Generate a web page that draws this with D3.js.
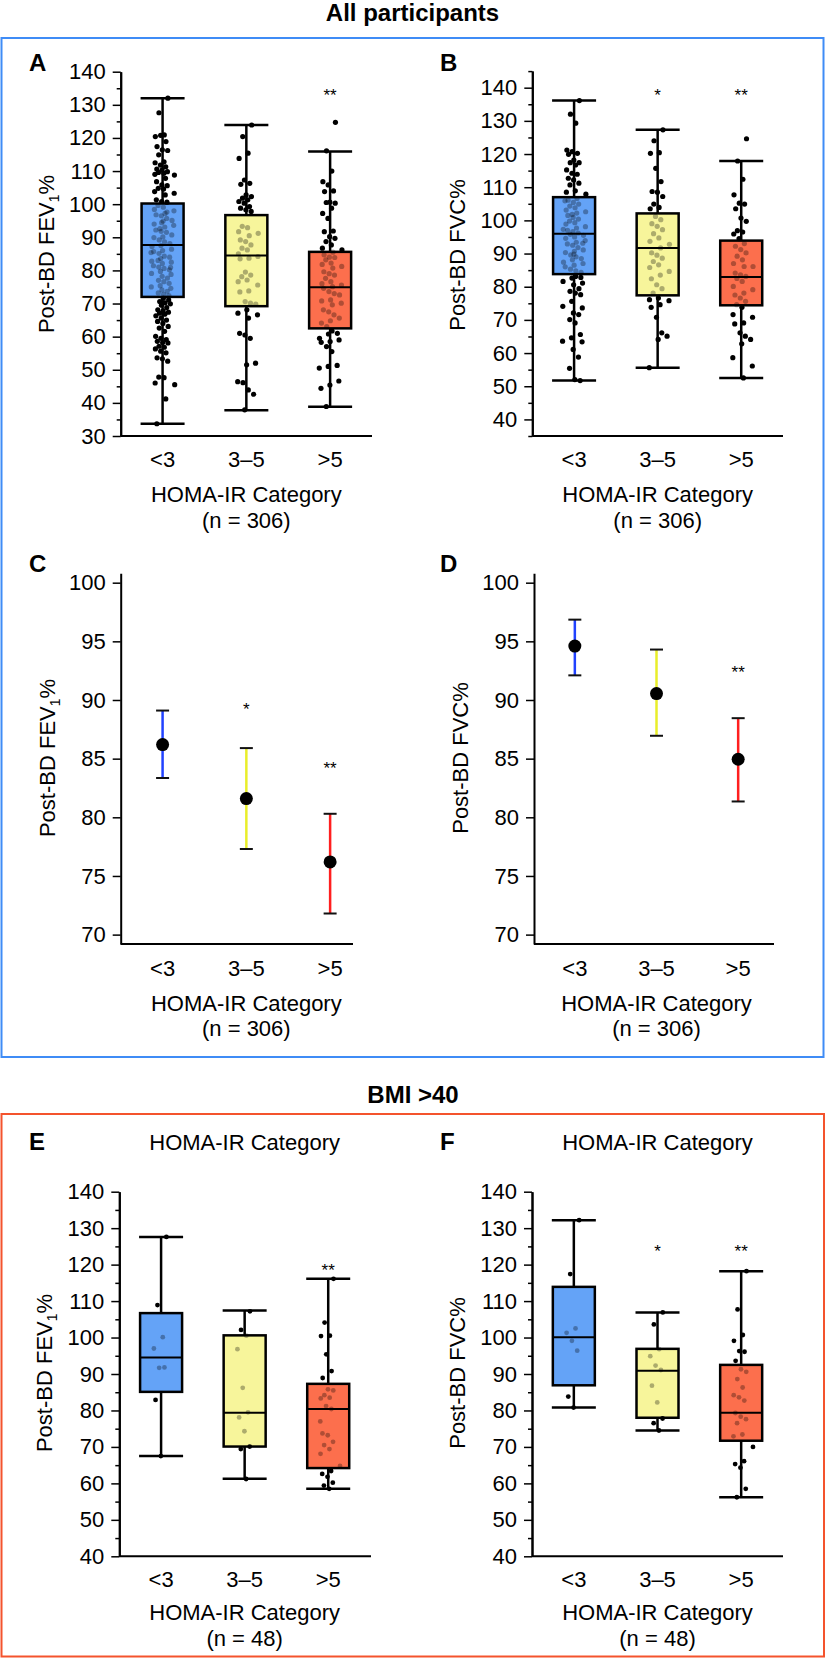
<!DOCTYPE html>
<html>
<head>
<meta charset="utf-8">
<script src="https://cdn.jsdelivr.net/npm/d3@7"></script>
<style>
body { margin: 0; background: #fff; }
svg { display: block; }
</style>
</head>
<body>
<div id="chart"></div>
<script>
var groups = ['<3', '3–5', '>5'];

// box plots: [whisker low, Q1, median, Q3, whisker high]
var statsA = [[33.7, 72.0, 87.7, 100.2, 132.0], [37.8, 69.2, 84.5, 96.7, 123.9], [38.8, 62.5, 74.9, 85.6, 115.9]];
var statsB = [[51.7, 83.8, 96.0, 107.0, 136.1], [55.6, 77.4, 91.7, 102.1, 127.3], [52.5, 74.4, 82.9, 93.9, 117.9]];
var statsE = [[67.5, 85.1, 94.5, 106.7, 127.6], [61.3, 70.1, 79.4, 100.6, 107.4], [58.5, 64.2, 80.4, 87.3, 116.1]];
var statsF = [[80.8, 86.9, 100.1, 113.9, 132.2], [74.5, 78.0, 90.9, 96.9, 106.9], [56.2, 71.7, 79.4, 92.5, 118.2]];

// individual participants, Post-BD FEV1% (all)
var ptsA_lt3 = [132.0, 127.6, 120.9, 120.4, 120.8, 118.9, 117.4, 116.4, 116.2, 114.9, 112.8, 112.5, 111.8, 111.3, 110.6, 110.3, 109.8, 109.6, 109.3, 109.0, 108.8, 107.8, 106.8, 105.8, 105.6, 104.8, 104.6, 103.8, 103.3, 102.8, 101.3, 100.8, 100.6,
  99.6, 99.1, 98.4, 98.0, 97.2, 96.8, 96.5, 95.7, 95.1, 94.9, 94.0, 93.6, 93.1, 92.2, 91.8, 91.5, 90.7, 90.1, 89.9, 89.2, 88.6, 88.1, 87.5, 87.2, 86.4, 86.0, 85.7, 85.1, 84.3, 84.0, 83.6, 82.8, 82.5, 82.1, 81.4, 81.0, 80.6, 80.2, 79.7, 79.1, 78.8, 78.2, 77.7, 77.0, 76.6, 76.1, 75.4, 75.0, 74.6, 74.1, 73.7, 73.2, 72.8, 72.4, 92.6, 85.4, 80.9, 94.4, 97.6, 83.0,
  71.6, 71.1, 70.6, 70.2, 69.9, 69.5, 68.8, 68.1, 67.8, 67.4, 67.1, 66.8, 66.3, 65.6, 65.0, 64.6, 64.0, 63.1, 62.6, 61.6, 60.1, 59.5, 59.1, 58.6, 58.2, 58.1, 57.1, 56.8, 56.3, 55.6, 55.1, 53.6, 53.3, 52.6, 47.8, 47.6, 46.0, 45.5, 41.2, 33.7];
var ptsA_3to5 = [123.9, 120.4, 115.4, 113.8, 107.3, 106.3, 106.0, 102.8, 102.3, 101.8, 101.3, 100.8, 100.3, 99.3, 98.8, 98.3, 97.8,
  93.3, 92.9, 91.7, 91.2, 90.5, 89.2, 88.7, 87.7, 86.7, 86.2, 85.0, 84.2, 83.7, 83.5, 79.5, 78.6, 78.1, 77.1, 76.6, 75.6, 73.8, 73.5, 70.6, 70.1, 69.8,
  68.1, 67.1, 66.6, 65.6, 61.0, 60.5, 59.5, 52.0, 51.5, 46.4, 46.1, 43.9, 42.6, 37.9];
var ptsA_gt5 = [124.7, 116.1, 110.0, 106.8, 105.8, 104.0, 103.8, 100.6, 100.3, 100.5, 98.8, 97.2, 95.7, 91.9, 91.7, 90.2, 89.7, 88.7, 87.7, 86.7, 86.2,
  85.5, 84.7, 84.0, 83.9, 83.2, 82.2, 81.8, 81.2, 80.7, 79.6, 79.0, 78.6, 77.6, 76.6, 76.0, 75.6, 75.1, 74.6, 73.6, 73.0, 72.6, 71.1, 70.8, 70.1, 69.6, 68.1, 67.5, 66.6, 65.6, 64.8, 64.1, 63.0,
  61.7, 61.0, 60.8, 59.5, 59.0, 58.5, 58.3, 57.0, 55.5, 51.3, 51.0, 50.5, 46.6, 45.4, 44.4, 38.9];

// individual participants, Post-BD FVC% (all)
var ptsB_lt3 = [136.1, 132.0, 129.3, 121.2, 120.7, 120.2, 119.9, 118.2, 117.4, 117.4, 116.7, 115.2, 114.2, 113.9, 112.7, 112.2, 111.2, 110.7, 108.9, 108.5, 107.9,
  106.6, 106.1, 105.4, 104.9, 104.3, 103.8, 103.1, 102.6, 102.2, 101.5, 100.9, 100.4, 99.8, 99.3, 98.9, 98.1, 97.7, 97.0, 96.6, 96.2, 95.5, 95.0, 94.6, 93.9, 93.4, 92.9, 92.5, 91.8, 91.1, 90.7, 90.3, 89.6, 89.0, 88.5, 88.1, 87.4, 87.0, 86.5, 86.0, 85.3, 84.8, 84.3, 101.8, 97.3, 93.1, 89.8, 105.9, 95.8,
  83.1, 82.8, 82.6, 81.6, 81.1, 80.6, 79.4, 78.6, 78.1, 77.6, 75.6, 74.1, 73.6, 72.1, 71.6, 70.1, 69.1, 65.6, 64.6, 63.6, 63.4, 61.1, 58.8, 55.4, 52.0, 51.7];
var ptsB_3to5 = [127.3, 124.0, 120.4, 120.2, 115.7, 111.7, 108.7, 108.5, 107.2, 104.9, 103.9, 103.5,
  101.2, 100.2, 99.0, 98.2, 97.2, 96.0, 94.7, 93.7, 92.8, 91.7, 90.2, 89.5, 88.6, 87.6, 86.6, 85.8, 84.6, 83.5, 82.4, 80.6, 79.4, 78.1,
  76.6, 76.1, 75.8, 74.6, 73.8, 70.8, 66.1, 65.1, 64.1, 55.6];
var ptsB_gt5 = [124.6, 117.9, 112.4, 107.7, 105.2, 104.9, 103.5, 100.7, 99.7, 96.9, 96.5, 95.9, 94.5,
  93.0, 92.2, 91.2, 90.2, 89.2, 88.1, 87.0, 86.1, 86.1, 84.1, 83.6, 83.1, 82.5, 81.6, 80.1, 79.1, 78.1, 77.5, 76.6, 75.6, 74.6,
  73.8, 71.6, 70.8, 69.1, 68.8, 66.1, 65.1, 64.1, 62.8, 58.6, 56.1, 52.5];

// BMI > 40
var ptsE_lt3 = [127.6, 108.9, 100.1, 97.0, 91.7, 91.8, 82.9, 67.5];
var ptsE_3to5 = [107.2, 102.1, 100.5, 96.8, 86.2, 79.5, 78.1, 74.3, 70.1, 69.4, 61.2];
var ptsE_gt5 = [116.1, 104.1, 100.5, 100.4, 95.4, 90.8, 88.9, 85.8, 85.5, 84.2, 83.5, 83.3, 81.2, 80.4, 73.7, 73.2, 71.4, 70.5, 69.4, 68.1, 64.8, 63.4, 62.6, 61.8, 60.2, 59.4, 58.5, 77.0];
var ptsF_lt3 = [132.2, 117.4, 102.5, 101.3, 99.1, 96.4, 83.8, 80.8];
var ptsF_3to5 = [106.9, 103.6, 96.8, 94.9, 92.3, 91.1, 86.8, 82.2, 77.8, 76.5, 74.5];
var ptsF_gt5 = [118.2, 107.7, 100.7, 99.1, 96.3, 96.1, 93.6, 91.3, 90.6, 88.6, 86.3, 84.2, 83.6, 82.7, 79.3, 78.3, 77.6, 76.5, 73.4, 72.9, 70.0, 66.1, 65.3, 64.3, 58.5, 56.2];

// adjusted means with 95% CI
var meanC = [86.2, 81.6, 76.2];
var lowC = [83.35, 77.3, 71.8];
var highC = [89.1, 85.9, 80.3];
var meanD = [94.6, 90.55, 84.95];
var lowD = [92.1, 86.95, 81.35];
var highD = [96.85, 94.3, 88.45];

// significance marks and the value they sit at
var starsA = ['', '', '**'], starAtA = 134;
var starsB = ['', '*', '**'], starAtB = 138.8;
var starsC = ['', '*', '**'], starAtC = [0, 89.5, 84.5];
var starsD = ['', '', '**'], starAtD = [0, 0, 92.7];
var starsE = ['', '', '**'], starAtE = 119.4;
var starsF = ['', '*', '**'], starAtF = 124.6;

var boxFill = ['#64a3f7', '#f7f59b', '#fc6f4d'];
var barColor = ['#2142ff', '#e9ee2a', '#ff1f1f'];
var font = '"Liberation Sans", Arial, Helvetica, sans-serif';
var fs = 22;

var svg = d3.select('#chart').append('svg')
  .attr('width', 825)
  .attr('height', 1658);

// frames and group titles
svg.append('rect').attr('x', 1.5).attr('y', 38).attr('width', 822).attr('height', 1019)
  .attr('fill', 'none').attr('stroke', '#3f8cf6').attr('stroke-width', 2);
svg.append('rect').attr('x', 1.5).attr('y', 1114).attr('width', 822.5).attr('height', 542.5)
  .attr('fill', 'none').attr('stroke', '#f4532d').attr('stroke-width', 2);
svg.append('text').attr('x', 412.5).attr('y', 21).attr('text-anchor', 'middle')
  .attr('font-family', font).attr('font-size', 24).attr('font-weight', 'bold').text('All participants');
svg.append('text').attr('x', 413).attr('y', 1103).attr('text-anchor', 'middle')
  .attr('font-family', font).attr('font-size', 24).attr('font-weight', 'bold').text('BMI >40');

function jitter(i) {
  return ((i * 0.6180339887) % 1 + (i * 0.7548776662) % 1 - 1) * 0.17;
}

function styleAxis(a) {
  a.attr('font-family', font).attr('font-size', fs);
  a.select('.domain').attr('stroke', '#000').attr('stroke-width', 2);
  a.selectAll('.tick line').attr('stroke', '#000').attr('stroke-width', 1.5);
  a.selectAll('.tick text').attr('fill', '#000');
}

function frame(g, p, x, y) {
  if (p.minor) {
    g.append('g').attr('transform', 'translate(' + p.xr[0] + ',0)')
      .call(d3.axisLeft(y).tickValues(p.minor).tickSize(4).tickSizeOuter(0).tickFormat(''))
      .call(styleAxis);
  }
  g.append('g').attr('transform', 'translate(' + p.xr[0] + ',0)')
    .call(d3.axisLeft(y).tickValues(p.major).tickSize(8).tickPadding(7).tickSizeOuter(0))
    .call(styleAxis);
  g.append('line')
    .attr('x1', p.xr[0]).attr('x2', p.xEnd)
    .attr('y1', y.range()[0]).attr('y2', y.range()[0])
    .attr('stroke', '#000').attr('stroke-width', 2);
  var mid = (p.xr[0] + p.xr[1]) / 2;
  g.selectAll('text.xlab')
    .data(groups)
    .enter()
    .append('text')
    .attr('class', 'xlab')
    .attr('x', function (d) { return x(d) + x.bandwidth() / 2; })
    .attr('y', p.tickY)
    .attr('dy', '0.35em')
    .attr('text-anchor', 'middle')
    .attr('font-family', font).attr('font-size', fs)
    .text(function (d) { return d; });
  g.append('text').attr('x', mid).attr('y', p.titleY).attr('dy', '0.35em')
    .attr('text-anchor', 'middle').attr('font-family', font).attr('font-size', fs)
    .text('HOMA-IR Category');
  g.append('text').attr('x', mid).attr('y', p.nY).attr('dy', '0.35em')
    .attr('text-anchor', 'middle').attr('font-family', font).attr('font-size', fs)
    .text(p.nText);
  if (p.topTitleY) {
    g.append('text').attr('x', mid).attr('y', p.topTitleY).attr('dy', '0.35em')
      .attr('text-anchor', 'middle').attr('font-family', font).attr('font-size', fs)
      .text('HOMA-IR Category');
  }
  g.append('text').attr('x', p.letter[1]).attr('y', p.letter[2])
    .attr('font-family', font).attr('font-size', 24).attr('font-weight', 'bold')
    .text(p.letter[0]);
  var yl = g.append('text')
    .attr('transform', 'translate(' + p.ylab[0] + ',' + p.ylab[1] + ') rotate(-90)')
    .attr('dy', '0.35em')
    .attr('text-anchor', 'middle')
    .attr('font-family', font).attr('font-size', fs);
  if (p.fev) {
    yl.append('tspan').text('Post-BD FEV');
    yl.append('tspan').attr('font-size', 14).attr('dy', 5).text('1');
    yl.append('tspan').attr('dy', -5).text('%');
  } else {
    yl.text('Post-BD FVC%');
  }
}

function boxPanel(p) {
  var g = svg.append('g');
  var x = d3.scaleBand().domain(groups).range(p.xr);
  var y = d3.scaleLinear().domain(p.yd).range(p.yr);
  var bw = 42, cw = 44;
  frame(g, p, x, y);
  groups.forEach(function (c, k) {
    var s = p.stats[k];
    var cx = x(c) + x.bandwidth() / 2;
    g.append('line').attr('x1', cx).attr('x2', cx).attr('y1', y(s[0])).attr('y2', y(s[4]))
      .attr('stroke', '#000').attr('stroke-width', 2.5);
    [s[0], s[4]].forEach(function (v) {
      g.append('line').attr('x1', cx - cw / 2).attr('x2', cx + cw / 2).attr('y1', y(v)).attr('y2', y(v))
        .attr('stroke', '#000').attr('stroke-width', 2.5);
    });
    g.append('rect').attr('x', cx - bw / 2).attr('width', bw)
      .attr('y', y(s[3])).attr('height', y(s[1]) - y(s[3]))
      .attr('fill', boxFill[k]);
    g.selectAll(null)
      .data(p.pts[k])
      .enter()
      .append('circle')
      .attr('cx', function (d, i) { return cx + jitter(i + 1) * x.bandwidth(); })
      .attr('cy', function (d) { return y(d); })
      .attr('r', p.r)
      .attr('fill', '#000')
      .attr('fill-opacity', function (d) { return (d > s[1] && d < s[3]) ? 0.3 : 1; });
    g.append('rect').attr('x', cx - bw / 2).attr('width', bw)
      .attr('y', y(s[3])).attr('height', y(s[1]) - y(s[3]))
      .attr('fill', 'none').attr('stroke', '#000').attr('stroke-width', 2.5);
    g.append('line').attr('x1', cx - bw / 2).attr('x2', cx + bw / 2).attr('y1', y(s[2])).attr('y2', y(s[2]))
      .attr('stroke', '#000').attr('stroke-width', 2);
    if (p.stars[k]) {
      g.append('text').attr('x', cx).attr('y', y(p.starAt)).attr('dy', '0.55em')
        .attr('text-anchor', 'middle').attr('font-family', font).attr('font-size', 17)
        .text(p.stars[k]);
    }
  });
}

function meanPanel(p) {
  var g = svg.append('g');
  var x = d3.scaleBand().domain(groups).range(p.xr);
  var y = d3.scaleLinear().domain(p.yd).range(p.yr);
  frame(g, p, x, y);
  groups.forEach(function (c, k) {
    var cx = x(c) + x.bandwidth() / 2;
    g.append('line').attr('x1', cx).attr('x2', cx).attr('y1', y(p.low[k])).attr('y2', y(p.high[k]))
      .attr('stroke', barColor[k]).attr('stroke-width', 2.5);
    [p.low[k], p.high[k]].forEach(function (v) {
      g.append('line').attr('x1', cx - 6.5).attr('x2', cx + 6.5).attr('y1', y(v)).attr('y2', y(v))
        .attr('stroke', '#111').attr('stroke-width', 2);
    });
    g.append('circle').attr('cx', cx).attr('cy', y(p.mean[k])).attr('r', 6.5).attr('fill', '#000');
    if (p.stars[k]) {
      g.append('text').attr('x', cx).attr('y', y(p.starAt[k])).attr('dy', '0.55em')
        .attr('text-anchor', 'middle').attr('font-family', font).attr('font-size', 17)
        .text(p.stars[k]);
    }
  });
}

boxPanel({
  xr: [120.7, 372], xEnd: 372, yd: [30, 140], yr: [436, 71.7],
  major: d3.range(30, 141, 10), minor: d3.range(35, 140, 10),
  stats: statsA, pts: [ptsA_lt3, ptsA_3to5, ptsA_gt5], r: 2.6,
  stars: starsA, starAt: starAtA,
  letter: ['A', 29, 71], ylab: [46, 254], fev: true,
  tickY: 459, titleY: 494, nY: 520, nText: '(n = 306)'
});
boxPanel({
  xr: [532.3, 783], xEnd: 783, yd: [35, 145], yr: [436, 71.1],
  major: d3.range(40, 141, 10), minor: d3.range(35, 146, 10),
  stats: statsB, pts: [ptsB_lt3, ptsB_3to5, ptsB_gt5], r: 2.6,
  stars: starsB, starAt: starAtB,
  letter: ['B', 440, 71], ylab: [457, 255], fev: false,
  tickY: 459, titleY: 494, nY: 520, nText: '(n = 306)'
});
meanPanel({
  xr: [120.7, 372], xEnd: 353, yd: [69.2, 100.8], yr: [944, 573.3],
  major: d3.range(70, 101, 5), minor: null,
  mean: meanC, low: lowC, high: highC,
  stars: starsC, starAt: starAtC,
  letter: ['C', 29, 572], ylab: [47, 758], fev: true,
  tickY: 968, titleY: 1003, nY: 1028, nText: '(n = 306)'
});
meanPanel({
  xr: [534, 779], xEnd: 774, yd: [69.2, 100.8], yr: [944, 573.3],
  major: d3.range(70, 101, 5), minor: null,
  mean: meanD, low: lowD, high: highD,
  stars: starsD, starAt: starAtD,
  letter: ['D', 440, 572], ylab: [460, 758], fev: false,
  tickY: 968, titleY: 1003, nY: 1028, nText: '(n = 306)'
});
boxPanel({
  xr: [119.3, 370], xEnd: 371, yd: [40, 140], yr: [1556.3, 1191.7],
  major: d3.range(40, 141, 10), minor: d3.range(45, 140, 10),
  stats: statsE, pts: [ptsE_lt3, ptsE_3to5, ptsE_gt5], r: 2.4,
  stars: starsE, starAt: starAtE,
  letter: ['E', 29, 1150], ylab: [44, 1373], fev: true, topTitleY: 1142,
  tickY: 1579, titleY: 1612, nY: 1638, nText: '(n = 48)'
});
boxPanel({
  xr: [532, 783], xEnd: 783, yd: [40, 140], yr: [1556.3, 1191.7],
  major: d3.range(40, 141, 10), minor: d3.range(45, 140, 10),
  stats: statsF, pts: [ptsF_lt3, ptsF_3to5, ptsF_gt5], r: 2.4,
  stars: starsF, starAt: starAtF,
  letter: ['F', 440, 1150], ylab: [457, 1373], fev: false, topTitleY: 1142,
  tickY: 1579, titleY: 1612, nY: 1638, nText: '(n = 48)'
});
</script>
</body>
</html>
